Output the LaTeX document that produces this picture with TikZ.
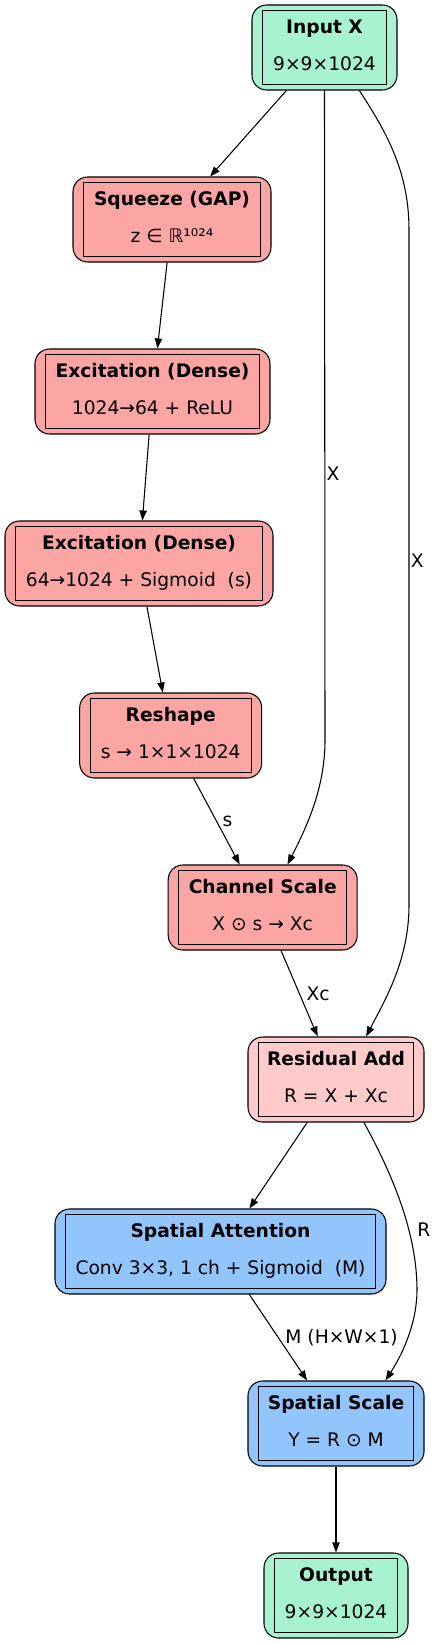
\documentclass[tikz,border=0pt]{standalone}
\usepackage{fontspec}
\setmainfont{DejaVu Sans}
\usetikzlibrary{arrows.meta,calc}

\definecolor{ioGreen}{HTML}{A7F3D0}
\definecolor{seRed}{HTML}{FCA5A5}
\definecolor{resPink}{HTML}{FECACA}
\definecolor{spBlue}{HTML}{93C5FD}

\tikzset{
  blk/.style={draw, line width=0.8pt, rounded corners=11pt, minimum height=63.75pt,
    inner sep=0pt, align=center, font=\fontsize{14}{17}\selectfont},
  inrect/.style={draw, line width=0.8pt},
  edge/.style={-{Triangle[length=7.5pt,width=5.5pt]}, line width=0.8pt},
  elab/.style={font=\fontsize{14}{17}\selectfont, inner sep=1pt}
}
\newcommand{\blktext}[2]{\textbf{#1}\strut\\[10.5pt]#2\strut}

\begin{document}
\begin{tikzpicture}[x=0.75pt,y=0.75pt,yscale=-1,xscale=1]
\useasboundingbox (0,0) rectangle (435,1644);

% Blocks
\node[blk, fill=ioGreen, minimum width=108.75pt] (inp) at (324.5,47.5) {\blktext{Input X}{9×9×1024}};
\node[blk, fill=seRed, minimum width=148.5pt] (sq) at (172,219.5) {\blktext{Squeeze (GAP)}{z ∈ ℝ¹⁰²⁴}};
\node[blk, fill=seRed, minimum width=176.25pt] (ex1) at (152.5,391.5) {\blktext{Excitation (Dense)}{1024→64 + ReLU}};
\node[blk, fill=seRed, minimum width=201pt] (ex2) at (139,563.5) {\blktext{Excitation (Dense)}{64→1024 + Sigmoid\ \ (s)}};
\node[blk, fill=seRed, minimum width=136.5pt] (rsh) at (170.7,735.5) {\blktext{Reshape}{s → 1×1×1024}};
\node[blk, fill=seRed, minimum width=141.75pt] (chs) at (262.7,907.5) {\blktext{Channel Scale}{X ⊙ s → Xc}};
\node[blk, fill=resPink, minimum width=132pt] (res) at (336,1079.5) {\blktext{Residual Add}{R = X + Xc}};
\node[blk, fill=spBlue, minimum width=248.25pt] (sa) at (220.5,1251.5) {\blktext{Spatial Attention}{Conv 3×3, 1 ch + Sigmoid\ \ (M)}};
\node[blk, fill=spBlue, minimum width=132pt] (ss) at (336,1423.5) {\blktext{Spatial Scale}{Y = R ⊙ M}};
\node[blk, fill=ioGreen, minimum width=108pt] (out) at (336,1595.5) {\blktext{Output}{9×9×1024}};

% inner border of every block
\foreach \n in {inp,sq,ex1,ex2,rsh,chs,res,sa,ss,out}
  \draw[inrect] ($(\n.north west)+(11,6)$) rectangle ($(\n.south east)+(-11,-6)$);

% Waypoints of the skip paths
\coordinate (xa) at (325,740);
\coordinate (xb) at (409,230);
\coordinate (xc) at (409,905);
\coordinate (ra) at (417,1290);

% Straight edges
\draw[edge] (inp) -- (sq);
\draw[edge] (sq) -- (ex1);
\draw[edge] (ex1) -- (ex2);
\draw[edge] (ex2) -- (rsh);
\draw[edge] (rsh) -- node[elab, midway, right=3pt] {s} (chs);
\draw[edge] (chs) -- node[elab, midway, right=4pt] {Xc} (res);
\draw[edge] (res) -- (sa);
\draw[edge] (sa) -- node[elab, midway, right=4pt] {M (H×W×1)} (ss);
\draw[edge] (ss) -- (out);

% Skip edges
\draw[edge] (inp.south) -- node[elab, pos=0.59, right=0pt] {X} (xa)
  .. controls (325,790) and (305,830) .. (chs.60);
\draw[edge] (inp.-51) .. controls (385,130) and (409,170) .. (xb)
  -- node[elab, pos=0.49, right=0pt] {X} (xc)
  .. controls (409,960) and (385,1000) .. (res.55);
\draw[edge] (res.-57) .. controls (390,1170) and (417,1230) .. (ra)
  node[elab, pos=0.66, right=5pt] {R}
  .. controls (417,1320) and (405,1350) .. (ss.41);

\end{tikzpicture}
\end{document}
